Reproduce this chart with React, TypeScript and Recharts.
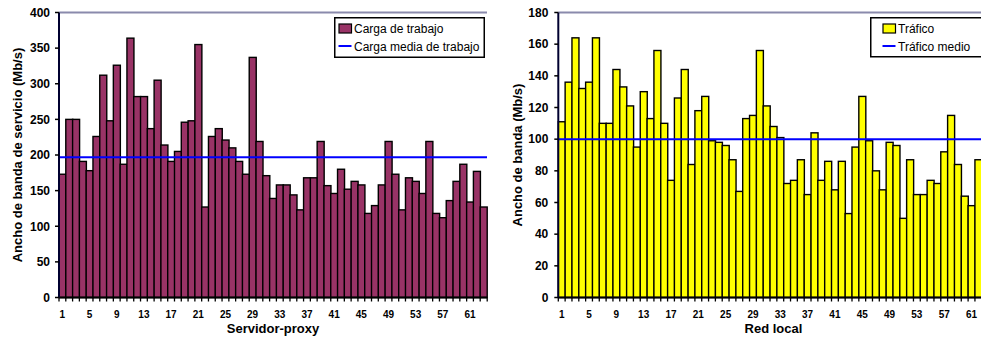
import React from 'react';
import { ComposedChart, Bar, XAxis, YAxis, ReferenceLine, Legend } from 'recharts';

const FONT = '"Liberation Sans", Arial, Helvetica, sans-serif';

// Servidor-proxy: carga de trabajo (Mb/s)
const proxyIds = Array.from({ length: 63 }, (_, i) => i + 1);
const proxyLoad = [
  173, 250, 250, 191, 178, 226, 312, 248, 326, 187,
  364, 282, 282, 237, 305, 214, 191, 205, 246, 248,
  355, 127, 226, 237, 221, 210, 191, 173, 337, 219,
  171, 139, 158, 158, 144, 123, 168, 168, 219, 157,
  146, 180, 152, 163, 158, 118, 129, 158, 219, 173,
  123, 168, 163, 146, 219, 118, 112, 136, 163, 187,
  134, 177, 127,
];
const proxyMeanLoad = 197;
const proxyTicks = [0, 50, 100, 150, 200, 250, 300, 350, 400];

// Red local: tráfico (Mb/s)
const lanIds = Array.from({ length: 63 }, (_, i) => i + 1);
const lanTraffic = [
  111, 136, 164, 132, 136, 164, 110, 110, 144, 133,
  121, 95, 130, 113, 156, 110, 74, 126, 144, 84,
  118, 127, 99, 98, 96, 87, 67, 113, 115, 156,
  121, 108, 101, 72, 74, 87, 65, 104, 74, 86,
  68, 86, 53, 95, 127, 99, 80, 68, 98, 96,
  50, 87, 65, 65, 74, 72, 92, 115, 84, 64,
  58, 87, 56,
];
const lanMeanTraffic = 100;
const lanTicks = [0, 20, 40, 60, 80, 100, 120, 140, 160, 180];

const proxyRows = proxyIds.map((id, i) => ({ id, value: proxyLoad[i] }));
const lanRows = lanIds.map((id, i) => ({ id, value: lanTraffic[i] }));

const FRAME = '#8a8aac';
const MEAN = '#0000ff';

function BarWithBoundaryTick(props: any) {
  const { x, y, width, height, fill, index, lastIndex } = props;
  const bottom = y + height;
  return (
    <g>
      <rect x={x} y={y} width={width} height={height} fill={fill} stroke="#000" strokeWidth={1.4} />
      <line x1={x} y1={bottom} x2={x} y2={bottom + 4} stroke="#000" strokeWidth={1.3} />
      {index === lastIndex && (
        <line x1={x + width} y1={bottom} x2={x + width} y2={bottom + 4} stroke="#000" strokeWidth={1.3} />
      )}
    </g>
  );
}

function YTitle(props: any) {
  const { viewBox, text, baselineX } = props;
  const x = viewBox.x + baselineX;
  const y = viewBox.y + viewBox.height / 2;
  return (
    <text
      x={x}
      y={y}
      transform={`rotate(-90, ${x}, ${y})`}
      textAnchor="middle"
      fontFamily={FONT}
      fontWeight={700}
      fontSize={13}
      fill="#000"
    >
      {text}
    </text>
  );
}

function XTitle(props: any) {
  const { viewBox, text } = props;
  return (
    <text
      x={viewBox.x + viewBox.width / 2}
      y={viewBox.y + 35.5}
      textAnchor="middle"
      fontFamily={FONT}
      fontWeight={700}
      fontSize={13}
      fill="#000"
    >
      {text}
    </text>
  );
}

type LegendSpec = {
  left: number;
  top: number;
  width: number;
  height: number;
  markX: number;
  textX: number;
  barLabel: string;
  meanLabel: string;
};

function LegendBox({ spec, fill }: { spec: LegendSpec; fill: string }) {
  return (
    <svg width={spec.width} height={spec.height} style={{ display: 'block' }}>
      <rect x={0.75} y={0.75} width={spec.width - 1.5} height={spec.height - 1.5} fill="#fff" stroke="#000" strokeWidth={1.5} />
      <rect x={spec.markX} y={7} width={12.5} height={9} fill={fill} stroke="#000" strokeWidth={1.2} />
      <text x={spec.textX} y={15.6} fontFamily={FONT} fontSize={12} fill="#000">
        {spec.barLabel}
      </text>
      <line x1={spec.markX - 0.5} y1={29} x2={spec.markX + 12.5} y2={29} stroke={MEAN} strokeWidth={2} />
      <text x={spec.textX} y={34} fontFamily={FONT} fontSize={12} fill="#000">
        {spec.meanLabel}
      </text>
    </svg>
  );
}

type ChartProps = {
  rows: { id: number; value: number }[];
  mean: number;
  ticks: number[];
  fill: string;
  yTitle: string;
  yTitleX: number;
  xTitle: string;
  yAxisWidth: number;
  tickMargin: number;
  width: number;
  legend: LegendSpec;
  name: string;
};

function BandwidthChart(p: ChartProps) {
  const max = p.ticks[p.ticks.length - 1];
  const lastIndex = p.rows.length - 1;
  return (
    <ComposedChart
      width={p.width}
      height={338}
      data={p.rows}
      margin={{ top: 12.5, right: 8, bottom: 0, left: 0 }}
      barCategoryGap={0}
      barGap={0}
    >
      <XAxis
        dataKey="id"
        type="category"
        interval={3}
        height={40.5}
        tickLine={false}
        tickSize={4}
        tickMargin={9}
        axisLine={{ stroke: '#000', strokeWidth: 2 }}
        tick={{ fontFamily: FONT, fontWeight: 700, fontSize: 10, fill: '#000' }}
        label={<XTitle text={p.xTitle} />}
      />
      <YAxis
        yAxisId="v"
        domain={[0, max]}
        ticks={p.ticks}
        interval={0}
        width={p.yAxisWidth}
        tickSize={4}
        tickMargin={p.tickMargin}
        tickLine={{ stroke: '#000', strokeWidth: 1.5 }}
        axisLine={{ stroke: '#000030', strokeWidth: 2 }}
        tick={{ fontFamily: FONT, fontWeight: 700, fontSize: 12, fill: '#000' }}
        label={<YTitle text={p.yTitle} baselineX={p.yTitleX} />}
      />
      <YAxis
        yAxisId="frame"
        orientation="right"
        domain={[0, max]}
        width={0}
        tick={false}
        tickLine={false}
        axisLine={{ stroke: FRAME, strokeWidth: 2 }}
      />
      <ReferenceLine yAxisId="v" y={max} stroke={FRAME} strokeWidth={2} />
      <Bar
        yAxisId="v"
        dataKey="value"
        name={p.name}
        fill={p.fill}
        isAnimationActive={false}
        shape={(s: any) => <BarWithBoundaryTick {...s} lastIndex={lastIndex} />}
      />
      <ReferenceLine yAxisId="v" y={p.mean} stroke={MEAN} strokeWidth={2} />
      <Legend
        layout="horizontal"
        verticalAlign="middle"
        align="center"
        wrapperStyle={{ left: p.legend.left, top: p.legend.top, width: p.legend.width, height: p.legend.height }}
        content={() => <LegendBox spec={p.legend} fill={p.fill} />}
      />
    </ComposedChart>
  );
}

export default function App() {
  return (
    <div
      style={{
        position: 'fixed',
        left: 0,
        top: 0,
        width: 981,
        height: 338,
        overflow: 'hidden',
        background: '#fff',
      }}
    >
      <div style={{ position: 'absolute', left: 0, top: 0 }}>
        <BandwidthChart
          rows={proxyRows}
          mean={proxyMeanLoad}
          ticks={proxyTicks}
          fill="#993366"
          yTitle="Ancho de banda de servicio (Mb/s)"
          yTitleX={21.6}
          xTitle="Servidor-proxy"
          yAxisWidth={59}
          tickMargin={5}
          width={495}
          name="Carga de trabajo"
          legend={{
            left: 334,
            top: 17,
            width: 151,
            height: 41,
            markX: 5,
            textX: 20,
            barLabel: 'Carga de trabajo',
            meanLabel: 'Carga media de trabajo',
          }}
        />
      </div>
      <div style={{ position: 'absolute', left: 495, top: 0 }}>
        <BandwidthChart
          rows={lanRows}
          mean={lanMeanTraffic}
          ticks={lanTicks}
          fill="#ffff00"
          yTitle="Ancho de banda (Mb/s)"
          yTitleX={26.7}
          xTitle="Red local"
          yAxisWidth={63.3}
          tickMargin={6}
          width={501.6}
          name="Tráfico"
          legend={{
            left: 375.3,
            top: 17.3,
            width: 116,
            height: 40.5,
            markX: 13,
            textX: 28,
            barLabel: 'Tráfico',
            meanLabel: 'Tráfico medio',
          }}
        />
      </div>
    </div>
  );
}
